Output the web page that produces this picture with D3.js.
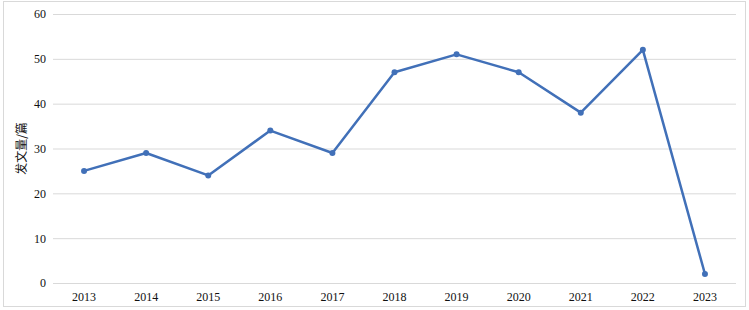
<!DOCTYPE html>
<html><head><meta charset="utf-8">
<script src="https://cdn.jsdelivr.net/npm/d3@7/dist/d3.min.js"></script>
<style>body{margin:0;background:#fff}svg{display:block}</style>
</head><body>
<svg id="c" width="749" height="310"></svg>
<script>
const years = ["2013","2014","2015","2016","2017","2018","2019","2020","2021","2022","2023"];
const counts = [25,29,24,34,29,47,51,47,38,52,2];
const yTicks = [0,10,20,30,40,50,60];
const yTitle = "发文量/篇";

const svg = d3.select("#c");
svg.append("rect").attr("x",3.5).attr("y",1.5).attr("width",742).attr("height",305)
  .attr("fill","#fff").attr("stroke","#d9d9d9");
const m = {l:53, r:736, t:14, b:283};
const x = d3.scaleBand().domain(years).range([m.l,m.r]);
const y = d3.scaleLinear().domain([0,60]).range([m.b,m.t]);

const gy = svg.append("g").attr("transform",`translate(${m.l},0)`)
  .call(d3.axisLeft(y).tickValues(yTicks).tickSize(-(m.r-m.l)).tickPadding(7));
gy.select(".domain").remove();
gy.selectAll("line").attr("stroke","#d9d9d9").attr("stroke-width",1);
gy.selectAll("text").attr("font-family","'Liberation Serif','Times New Roman',serif")
  .attr("font-size",12).attr("fill","#111");

const gx = svg.append("g").attr("transform",`translate(0,${m.b})`)
  .call(d3.axisBottom(x).tickSize(0).tickPadding(9));
gx.select(".domain").remove();
gx.selectAll("text").attr("font-family","'Liberation Serif','Times New Roman',serif")
  .attr("font-size",12).attr("fill","#111");

svg.append("text").attr("transform",`translate(26,${(m.t+m.b)/2}) rotate(-90)`)
  .attr("text-anchor","middle").attr("font-family","'Noto Sans CJK SC',sans-serif")
  .attr("font-size",12).attr("fill","#111").text(yTitle);

const line = d3.line().x((d,i)=>x(years[i])+x.bandwidth()/2).y(d=>y(d));
svg.append("path").datum(counts).attr("d",line).attr("fill","none")
  .attr("stroke","#4170b8").attr("stroke-width",2.5).attr("stroke-linejoin","round");
svg.selectAll("circle.pt").data(counts).enter().append("circle")
  .attr("cx",(d,i)=>x(years[i])+x.bandwidth()/2).attr("cy",d=>y(d)).attr("r",3)
  .attr("fill","#4170b8");
</script>
</body></html>
